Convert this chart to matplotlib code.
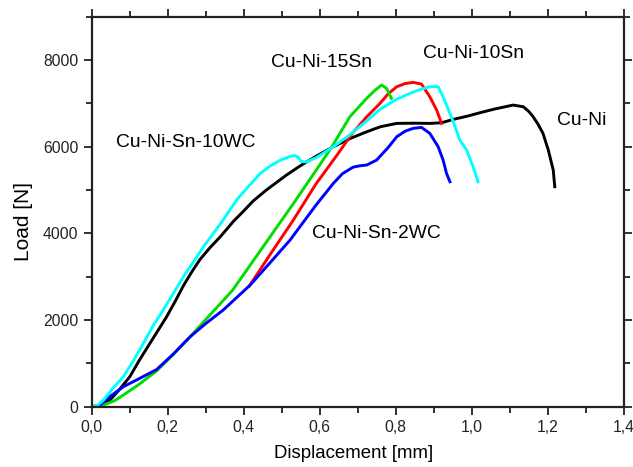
import matplotlib
matplotlib.use("Agg")
import matplotlib.pyplot as plt
from matplotlib.ticker import MultipleLocator, FixedLocator

plt.rcParams['font.family'] = ['Liberation Sans', 'DejaVu Sans']

# Cu-Ni (black)
cuni_x = [0.0, 0.02, 0.048, 0.075, 0.10, 0.125, 0.153, 0.175, 0.197, 0.22, 0.241, 0.263,
          0.285, 0.31, 0.338, 0.373, 0.40, 0.425, 0.46, 0.513, 0.548, 0.59, 0.636, 0.68,
          0.724, 0.76, 0.803, 0.85, 0.89, 0.921, 0.952, 0.99, 1.022, 1.06, 1.109, 1.136,
          1.15, 1.162, 1.175, 1.188, 1.202, 1.215, 1.219]
cuni_y = [0, 0, 155, 420, 692, 1070, 1463, 1770, 2077, 2440, 2790, 3110,
          3400, 3660, 3920, 4280, 4520, 4750, 5005, 5350, 5556, 5780, 6001, 6190,
          6347, 6463, 6540, 6545, 6540, 6555, 6633, 6710, 6786, 6870, 6963, 6925,
          6820, 6694, 6520, 6310, 5925, 5463, 5078]

# Cu-Ni-10Sn (red)
sn10_x = [0.415, 0.47, 0.53, 0.59, 0.645, 0.685, 0.724, 0.759, 0.78, 0.803, 0.825,
          0.846, 0.868, 0.89, 0.908, 0.921]
sn10_y = [2790, 3520, 4300, 5140, 5800, 6300, 6694, 7002, 7220, 7386, 7460,
          7487, 7448, 7155, 6848, 6540]

# Cu-Ni-15Sn (green)
sn15_x = [0.0, 0.031, 0.06, 0.083, 0.125, 0.171, 0.215, 0.259, 0.303, 0.371, 0.45, 0.53,
          0.59, 0.63, 0.68, 0.724, 0.745, 0.763, 0.776, 0.789]
sn15_y = [0, 40, 140, 270, 520, 830, 1210, 1616, 2040, 2693, 3680, 4680,
          5450, 5970, 6700, 7120, 7300, 7425, 7349, 7118]

# Cu-Ni-Sn-2WC (blue)
wc2_x = [0.0, 0.022, 0.05, 0.083, 0.125, 0.171, 0.215, 0.259, 0.30, 0.346, 0.417, 0.46,
         0.522, 0.548, 0.59, 0.636, 0.66, 0.688, 0.705, 0.724, 0.75, 0.78, 0.803, 0.825,
         0.846, 0.868, 0.89, 0.912, 0.925, 0.934, 0.943]
wc2_y = [0, 40, 250, 462, 650, 860, 1220, 1616, 1920, 2232, 2809, 3231,
         3847, 4155, 4650, 5156, 5380, 5530, 5560, 5579, 5694, 5980, 6232, 6360,
         6425, 6448, 6310, 6001, 5694, 5387, 5193]

# Cu-Ni-Sn-10WC (cyan)
wc10_x = [0.0, 0.015, 0.031, 0.055, 0.083, 0.11, 0.136, 0.16, 0.188, 0.215, 0.241, 0.27,
          0.294, 0.32, 0.345, 0.382, 0.417, 0.443, 0.47, 0.496, 0.52, 0.535, 0.543,
          0.552, 0.565, 0.592, 0.636, 0.68, 0.724, 0.76, 0.803, 0.838, 0.864, 0.89,
          0.912, 0.925, 0.943, 0.955, 0.969, 0.987, 1.004, 1.017]
wc10_y = [0, 30, 155, 420, 692, 1070, 1463, 1850, 2232, 2620, 3000, 3370,
          3693, 4000, 4300, 4780, 5130, 5380, 5560, 5690, 5770, 5800, 5760,
          5660, 5650, 5756, 6000, 6280, 6600, 6870, 7100, 7233, 7320, 7386,
          7386, 7155, 6771, 6500, 6155, 5925, 5540, 5193]

x_ticks = [0.0, 0.2, 0.4, 0.6, 0.8, 1.0, 1.2, 1.4]
x_tick_labels = ['0,0', '0,2', '0,4', '0,6', '0,8', '1,0', '1,2', '1,4']
y_ticks = [0, 2000, 4000, 6000, 8000]

fig = plt.figure(figsize=(6.33, 4.67), dpi=100)
ax = fig.add_axes([0.145, 0.129, 0.84, 0.835])

lw = 2.1
ax.plot(cuni_x, cuni_y, color='black', lw=lw)
ax.plot(sn10_x, sn10_y, color='#ff0000', lw=lw)
ax.plot(sn15_x, sn15_y, color='#00dd00', lw=lw)
ax.plot(wc2_x, wc2_y, color='#0000ff', lw=lw)
ax.plot(wc10_x, wc10_y, color='#00ffff', lw=lw)

ax.set_xlim(0, 1.4)
ax.set_ylim(0, 9000)
ax.xaxis.set_major_locator(FixedLocator(x_ticks))
ax.set_xticklabels(x_tick_labels)
ax.xaxis.set_minor_locator(MultipleLocator(0.1))
ax.yaxis.set_major_locator(FixedLocator(y_ticks))
ax.yaxis.set_minor_locator(MultipleLocator(1000))
ax.tick_params(which='both', direction='out', top=True, right=True,
               labeltop=False, labelright=False, width=1.3, colors='#222222')
ax.tick_params(which='major', length=6, labelsize=11.3)
ax.tick_params(which='minor', length=4)
for s in ax.spines.values():
    s.set_linewidth(1.6)
    s.set_color('#222222')

ax.set_xlabel('Displacement [mm]', fontsize=13.4)
ax.xaxis.set_label_coords(0.492, -0.098)
ax.set_ylabel('Load [N]', fontsize=15)
ax.yaxis.set_label_coords(-0.11, 0.476)

fs = 13.9
ax.text(0.605, 7950, 'Cu-Ni-15Sn', fontsize=fs, ha='center', va='center')
ax.text(1.005, 8163, 'Cu-Ni-10Sn', fontsize=fs, ha='center', va='center')
ax.text(1.29, 6616, 'Cu-Ni', fontsize=fs, ha='center', va='center')
ax.text(0.247, 6110, 'Cu-Ni-Sn-10WC', fontsize=fs, ha='center', va='center')
ax.text(0.75, 4000, 'Cu-Ni-Sn-2WC', fontsize=fs, ha='center', va='center')

fig.savefig('out.png', dpi=100)
